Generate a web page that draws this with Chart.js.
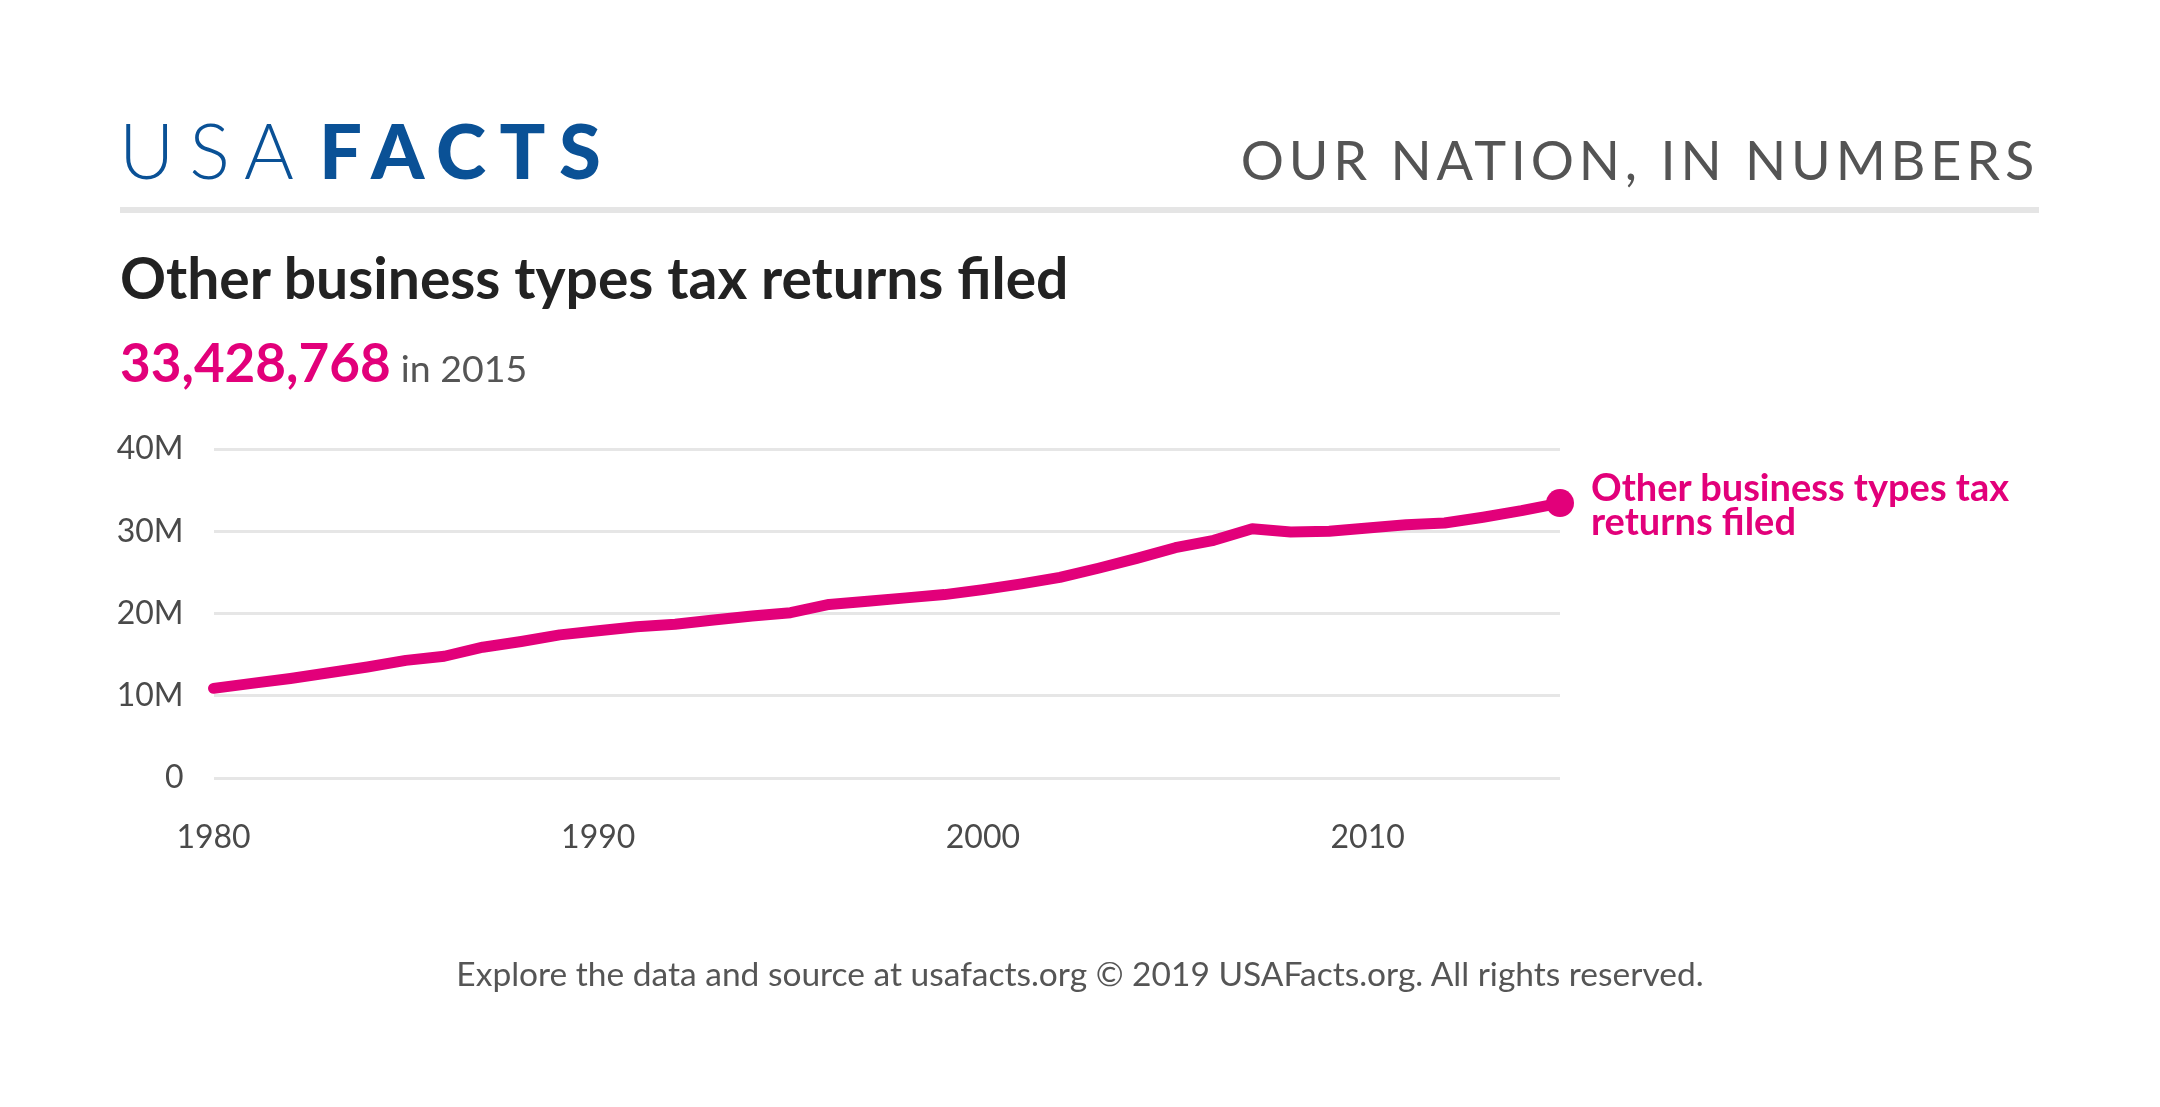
<!DOCTYPE html>
<html>
<head>
<meta charset="utf-8">
<script src="https://cdn.jsdelivr.net/npm/chart.js@4/dist/chart.umd.min.js"></script>
<style>
  html, body { margin: 0; padding: 0; background: #fff; }
  body { width: 2160px; height: 1107px; position: relative; overflow: hidden; font-family: Lato, "Noto Sans", sans-serif; }
  .abs { position: absolute; white-space: nowrap; }
  #logo { left: 119px; top: 100px; font-size: 76px; line-height: 100px; color: #0a5196; }
  #logo .usa { font-weight: 300; letter-spacing: 15px; }
  #logo .facts { font-weight: 900; letter-spacing: 13.5px; margin-left: 10px; }
  #tagline { right: 121px; top: 127px; font-size: 54px; line-height: 66px; color: #545454; letter-spacing: 4.8px; }
  #rule { left: 120px; top: 207px; width: 1919px; height: 6px; background: #e5e5e5; }
  #title { left: 120px; top: 242px; font-size: 57px; line-height: 70px; color: #222; font-weight: 700; }
  #value { left: 120px; top: 329px; font-size: 53px; line-height: 66px; color: #e2007a; font-weight: 700; }
  #value span { font-size: 37.5px; color: #555; font-weight: 400; margin-left: 10px; }
  #endlabel { left: 1591px; top: 469px; font-size: 38px; line-height: 34px; color: #e2007a; font-weight: 700; }
  #footer { left: 0; width: 2160px; text-align: center; top: 951px; font-size: 33.5px; line-height: 44px; color: #555; }
  #chartBox { position: absolute; left: 0; top: 0; width: 2160px; height: 1107px; }
</style>
</head>
<body>
<div id="chartBox"><canvas id="chart" width="2160" height="1107"></canvas></div>
<div class="abs" id="logo"><span class="usa">USA</span><span class="facts">FACTS</span></div>
<div class="abs" id="tagline">OUR NATION, IN NUMBERS</div>
<div class="abs" id="rule"></div>
<div class="abs" id="title">Other business types tax returns filed</div>
<div class="abs" id="value">33,428,768<span>in 2015</span></div>
<div class="abs" id="endlabel">Other business types tax<br>returns filed</div>
<div class="abs" id="footer">Explore the data and source at usafacts.org © 2019 USAFacts.org. All rights reserved.</div>

<script>
// values
const years = [1980, 1981, 1982, 1983, 1984, 1985, 1986, 1987, 1988, 1989,
               1990, 1991, 1992, 1993, 1994, 1995, 1996, 1997, 1998, 1999,
               2000, 2001, 2002, 2003, 2004, 2005, 2006, 2007, 2008, 2009,
               2010, 2011, 2012, 2013, 2014, 2015];
const returnsFiled = [10.9, 11.5, 12.1, 12.8, 13.5, 14.3, 14.8, 15.9, 16.6, 17.4,
                      17.9, 18.4, 18.7, 19.2, 19.7, 20.1, 21.1, 21.5, 21.9, 22.3,
                      22.9, 23.6, 24.4, 25.5, 26.7, 28.0, 28.9, 30.3, 29.9, 30.0,
                      30.4, 30.8, 31.0, 31.7, 32.5, 33.43]; // millions
const yTicks = [0, 10, 20, 30, 40];
const xTicks = [1980, 1990, 2000, 2010];

const pink = '#e2007a';
const lastIdx = years.length - 1;

const points = years.map((yr, i) => ({ x: yr, y: returnsFiled[i] }));

const ctx = document.getElementById('chart').getContext('2d');
new Chart(ctx, {
    type: 'line',
    data: {
        datasets: [{
            data: points,
            borderColor: pink,
            backgroundColor: pink,
            borderWidth: 11,
            borderJoinStyle: 'round',
            borderCapStyle: 'round',
            tension: 0,
            clip: false,
            pointRadius: (c) => c.dataIndex === lastIdx ? 14 : 0,
            pointHoverRadius: (c) => c.dataIndex === lastIdx ? 14 : 0,
            pointBorderWidth: 0
        }]
    },
    options: {
        responsive: false,
        animation: false,
        devicePixelRatio: 1,
        layout: {
            padding: { left: 0, top: 449, right: 600, bottom: 249 }
        },
        scales: {
            x: {
                type: 'linear',
                min: 1980,
                max: 2015,
                afterBuildTicks: (scale) => {
                    scale.ticks = xTicks.map(v => ({ value: v }));
                },
                afterFit: (scale) => { scale.height = 80; },
                grid: { display: false, drawTicks: false },
                border: { display: false },
                ticks: {
                    padding: 40,
                    maxRotation: 0,
                    color: '#4a4a4a',
                    font: { family: 'Lato', size: 32 },
                    callback: (v) => String(v)
                }
            },
            y: {
                min: 0,
                max: 40,
                afterBuildTicks: (scale) => {
                    scale.ticks = yTicks.map(v => ({ value: v }));
                },
                afterFit: (scale) => { scale.width = 213.5; },
                grid: { color: '#e6e6e6', lineWidth: 3, drawTicks: false },
                border: { display: false },
                ticks: {
                    padding: 30,
                    color: '#4a4a4a',
                    font: { family: 'Lato', size: 32 },
                    callback: (v) => v === 0 ? '0' : v + 'M'
                }
            }
        },
        plugins: {
            legend: { display: false },
            tooltip: { enabled: false }
        }
    }
});
</script>
</body>
</html>
